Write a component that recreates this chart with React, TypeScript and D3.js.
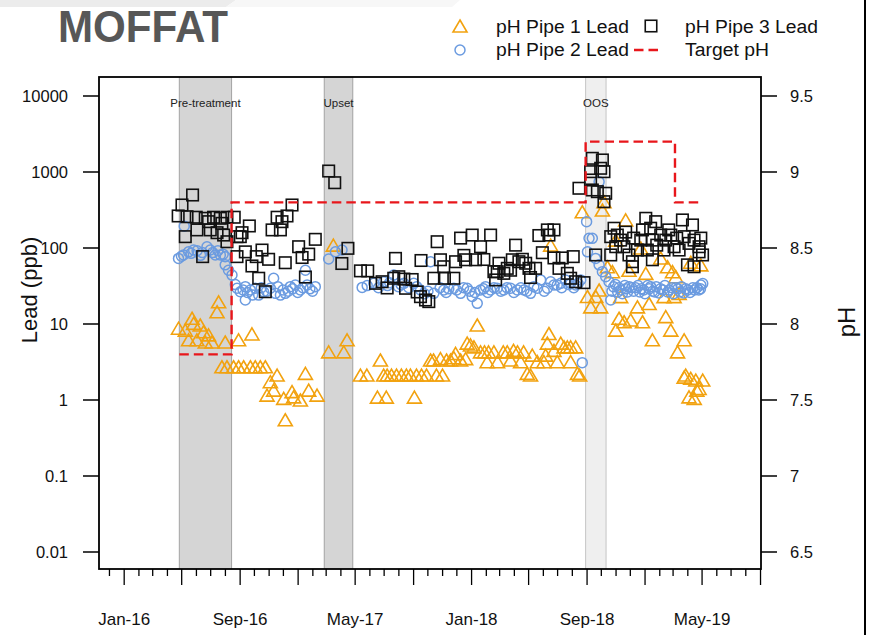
import React from "react";
import * as d3 from "d3";

// ---- DATA (decimal year, lead ppb) ----
const pipe1Lead: [number, number][] = [
  [2016.313, 8.8], [2016.352, 8.3], [2016.371, 6.2], [2016.391, 11.9], [2016.4, 10.2], [2016.419, 6.2],
  [2016.438, 9.7], [2016.457, 7.9], [2016.467, 5.8], [2016.486, 7.2], [2016.506, 5.8], [2016.535, 14.5],
  [2016.544, 19.6], [2016.563, 2.74], [2016.582, 5.8], [2016.592, 2.74], [2016.63, 2.74], [2016.659, 6.2],
  [2016.659, 2.74], [2016.688, 2.74], [2016.727, 2.74], [2016.736, 7.4], [2016.755, 2.74], [2016.784, 2.74],
  [2016.813, 2.74], [2016.823, 1.16], [2016.842, 1.74], [2016.861, 1.35], [2016.881, 2.13], [2016.919, 1.05],
  [2016.928, 0.55], [2016.967, 1.29], [2016.976, 1.1], [2017.015, 1.0], [2017.044, 2.24], [2017.063, 1.35],
  [2017.111, 1.16], [2017.178, 4.3], [2017.205, 109], [2017.265, 4.3], [2017.284, 6.2], [2017.361, 2.13],
  [2017.398, 2.13], [2017.459, 1.09], [2017.476, 3.36], [2017.495, 2.13], [2017.51, 1.09], [2017.515, 2.13],
  [2017.54, 2.13], [2017.569, 2.13], [2017.597, 2.13], [2017.626, 2.13], [2017.649, 2.13], [2017.672, 1.09],
  [2017.684, 2.13], [2017.713, 2.13], [2017.742, 2.13], [2017.765, 3.36], [2017.782, 3.36], [2017.799, 2.13],
  [2017.822, 3.5], [2017.834, 2.13], [2017.857, 3.36], [2017.88, 3.36], [2017.899, 3.6], [2017.909, 4.1],
  [2017.938, 3.36], [2017.967, 3.5], [2017.976, 5.6], [2017.995, 5.3], [2018.015, 5.0], [2018.034, 9.7],
  [2018.053, 4.3], [2018.076, 4.3], [2018.091, 3.19], [2018.099, 4.3], [2018.13, 4.3], [2018.151, 3.19],
  [2018.184, 4.3], [2018.207, 4.3], [2018.226, 3.36], [2018.243, 4.5], [2018.266, 4.3], [2018.284, 3.19],
  [2018.301, 4.3], [2018.322, 2.24], [2018.341, 2.13], [2018.351, 3.9], [2018.38, 3.19], [2018.418, 3.19],
  [2018.428, 3.9], [2018.438, 5.6], [2018.447, 7.5], [2018.457, 109], [2018.476, 4.5], [2018.495, 3.19],
  [2018.515, 5.6], [2018.534, 5.0], [2018.553, 5.0], [2018.572, 5.0], [2018.572, 3.19], [2018.601, 5.0],
  [2018.611, 2.24], [2018.624, 2.13], [2018.639, 300], [2018.669, 23], [2018.688, 16.8], [2018.717, 23],
  [2018.736, 28], [2018.745, 16.8], [2018.755, 316], [2018.764, 407], [2018.784, 56.7], [2018.813, 48.8],
  [2018.832, 8.3], [2018.832, 127], [2018.851, 11.9], [2018.86, 22.9], [2018.88, 10.7], [2018.889, 234],
  [2018.908, 51], [2018.918, 11.3], [2018.957, 16.8], [2018.976, 100], [2018.986, 10.7], [2019.005, 46.4],
  [2019.024, 18.6], [2019.043, 6.2], [2019.091, 74], [2019.11, 22.9], [2019.12, 12.5], [2019.13, 56.7],
  [2019.149, 8.3], [2019.159, 48.8], [2019.168, 22.9], [2019.178, 41.9], [2019.188, 4.3], [2019.197, 25.3],
  [2019.226, 6.2], [2019.226, 2.0], [2019.235, 2.13], [2019.254, 1.1], [2019.264, 1.93], [2019.264, 65],
  [2019.284, 1.05], [2019.293, 1.83], [2019.299, 1.35], [2019.312, 1.42], [2019.322, 60], [2019.333, 1.83],
];

const pipe2Lead: [number, number][] = [
  [2016.313, 73], [2016.33, 78], [2016.342, 81], [2016.346, 194], [2016.371, 89], [2016.385, 85],
  [2016.4, 94], [2016.42, 92], [2016.44, 80], [2016.45, 87], [2016.477, 104], [2016.496, 94],
  [2016.51, 87], [2016.525, 81], [2016.54, 92], [2016.554, 81], [2016.57, 83], [2016.582, 77],
  [2016.582, 60], [2016.601, 51], [2016.621, 44], [2016.64, 33], [2016.65, 29.5], [2016.669, 26.6],
  [2016.685, 28], [2016.698, 31], [2016.698, 20.7], [2016.71, 26], [2016.727, 28], [2016.74, 24],
  [2016.755, 29.5], [2016.775, 24], [2016.79, 30], [2016.803, 26.6], [2016.82, 27], [2016.842, 29.5],
  [2016.861, 40], [2016.871, 25.3], [2016.885, 31], [2016.9, 24], [2016.915, 28], [2016.928, 25.3],
  [2016.945, 27], [2016.957, 31], [2016.97, 29], [2016.986, 32.6], [2017.0, 26], [2017.015, 28],
  [2017.03, 30], [2017.044, 51], [2017.054, 32.6], [2017.07, 29], [2017.085, 27], [2017.101, 31],
  [2017.178, 71.6], [2017.217, 89], [2017.255, 94], [2017.371, 30.3], [2017.4, 32], [2017.438, 34.3],
  [2017.465, 30], [2017.495, 36], [2017.517, 32], [2017.53, 35], [2017.553, 44], [2017.58, 31],
  [2017.595, 33], [2017.611, 34.3], [2017.64, 30], [2017.668, 34.3], [2017.685, 31], [2017.707, 28],
  [2017.73, 25], [2017.75, 27], [2017.765, 66], [2017.784, 25.3], [2017.82, 30], [2017.841, 28],
  [2017.855, 26], [2017.87, 29], [2017.899, 29.5], [2017.915, 28], [2017.938, 25.3], [2017.955, 30],
  [2017.976, 29.5], [2017.99, 27], [2018.005, 23], [2018.02, 26], [2018.034, 18.7], [2018.053, 28],
  [2018.07, 29], [2018.082, 31], [2018.095, 26], [2018.111, 28], [2018.13, 30], [2018.149, 29.5],
  [2018.17, 27], [2018.187, 28], [2018.205, 30], [2018.226, 29.5], [2018.245, 26], [2018.265, 28],
  [2018.285, 30], [2018.303, 28], [2018.32, 27], [2018.341, 25.3], [2018.36, 31], [2018.38, 29.5],
  [2018.399, 38], [2018.42, 27], [2018.438, 29.5], [2018.457, 36], [2018.476, 32.6], [2018.495, 32.6],
  [2018.515, 34.3], [2018.52, 30], [2018.543, 38], [2018.56, 33], [2018.572, 34.3], [2018.59, 30],
  [2018.601, 32.6], [2018.615, 34], [2018.63, 38], [2018.639, 3.1], [2018.664, 222], [2018.669, 89],
  [2018.678, 134], [2018.697, 134], [2018.716, 73], [2018.736, 745], [2018.736, 60], [2018.755, 48.8],
  [2018.774, 42], [2018.793, 36], [2018.803, 20.7], [2018.81, 27], [2018.82, 30.8], [2018.83, 33],
  [2018.843, 26.4], [2018.85, 30], [2018.86, 28], [2018.87, 25], [2018.884, 32], [2018.89, 29],
  [2018.9, 26.4], [2018.91, 31], [2018.924, 30], [2018.935, 27], [2018.947, 30], [2018.96, 32],
  [2018.97, 26.4], [2018.98, 29], [2018.993, 28], [2019.0, 25], [2019.016, 32], [2019.025, 29],
  [2019.033, 31], [2019.045, 27], [2019.057, 26.4], [2019.065, 31], [2019.08, 25.6], [2019.09, 29],
  [2019.103, 28], [2019.115, 32], [2019.131, 26.4], [2019.14, 28], [2019.155, 30], [2019.165, 25],
  [2019.178, 30], [2019.19, 29], [2019.201, 26.4], [2019.21, 31], [2019.224, 25.6], [2019.235, 29],
  [2019.247, 28], [2019.26, 26], [2019.276, 30], [2019.285, 28], [2019.299, 30], [2019.31, 28],
  [2019.32, 29], [2019.322, 32.6], [2019.333, 34],
];

const pipe3Lead: [number, number][] = [
  [2016.311, 264], [2016.333, 368], [2016.352, 141], [2016.362, 258], [2016.394, 498], [2016.415, 254],
  [2016.419, 173], [2016.452, 77], [2016.467, 246], [2016.486, 222], [2016.496, 173], [2016.515, 254],
  [2016.535, 159], [2016.554, 246], [2016.563, 211], [2016.573, 148], [2016.592, 254], [2016.592, 121],
  [2016.634, 254], [2016.65, 141], [2016.65, 77], [2016.669, 141], [2016.679, 159], [2016.698, 89],
  [2016.721, 195], [2016.736, 58], [2016.761, 77], [2016.775, 40], [2016.794, 94], [2016.813, 26.6],
  [2016.832, 71], [2016.852, 173], [2016.881, 254], [2016.9, 173], [2016.909, 222], [2016.928, 64],
  [2016.938, 264], [2016.967, 368], [2017.005, 104], [2017.025, 75], [2017.044, 41.5], [2017.063, 83],
  [2017.101, 130], [2017.178, 1030], [2017.213, 723], [2017.254, 62.5], [2017.289, 99], [2017.361, 50],
  [2017.403, 50], [2017.448, 34.3], [2017.486, 36], [2017.515, 29.8], [2017.553, 40], [2017.563, 73],
  [2017.582, 41.9], [2017.611, 39], [2017.621, 29.5], [2017.659, 38.5], [2017.688, 26.4], [2017.707, 22.9],
  [2017.71, 68.5], [2017.736, 20.7], [2017.755, 19.7], [2017.784, 40], [2017.803, 121], [2017.822, 70],
  [2017.841, 56.7], [2017.845, 40], [2017.899, 40], [2017.909, 66], [2017.938, 135], [2017.957, 80],
  [2017.967, 70], [2018.005, 148], [2018.024, 70], [2018.053, 104], [2018.072, 70.6], [2018.111, 148],
  [2018.13, 48.8], [2018.14, 38], [2018.149, 48.8], [2018.159, 63], [2018.187, 46.4], [2018.207, 54],
  [2018.226, 51], [2018.236, 70], [2018.255, 109], [2018.274, 66], [2018.294, 71], [2018.313, 63],
  [2018.332, 54], [2018.341, 40.9], [2018.37, 54], [2018.389, 146], [2018.409, 86.7], [2018.438, 173],
  [2018.447, 148], [2018.476, 173], [2018.476, 74], [2018.505, 54], [2018.524, 74], [2018.553, 46.4],
  [2018.572, 40], [2018.587, 77], [2018.601, 36], [2018.62, 611], [2018.649, 35], [2018.687, 1010],
  [2018.687, 785], [2018.697, 1514], [2018.697, 580], [2018.716, 81], [2018.726, 551], [2018.745, 1119],
  [2018.755, 1440], [2018.764, 1010], [2018.764, 407], [2018.774, 525], [2018.803, 81], [2018.803, 141],
  [2018.822, 182], [2018.832, 104], [2018.841, 148], [2018.86, 127], [2018.879, 104], [2018.889, 162],
  [2018.908, 81], [2018.928, 66], [2018.928, 56.7], [2018.935, 135], [2018.957, 94], [2018.976, 127],
  [2018.986, 173], [2019.005, 246], [2019.014, 94], [2019.033, 182], [2019.043, 127], [2019.043, 70],
  [2019.062, 222], [2019.068, 109], [2019.091, 148], [2019.11, 94], [2019.12, 127], [2019.137, 173],
  [2019.149, 148], [2019.168, 104], [2019.183, 135], [2019.197, 94], [2019.216, 234], [2019.226, 141],
  [2019.245, 60], [2019.254, 115], [2019.274, 201], [2019.283, 127], [2019.283, 56.7], [2019.312, 104],
  [2019.312, 89], [2019.322, 135], [2019.332, 81],
];

const targetPH: [string, number][] = [
  ["2016-04-26", 7.8], ["2016-08-14", 7.8], ["2016-08-14", 8.8], ["2018-08-29", 8.8],
  ["2018-08-29", 9.2], ["2019-03-05", 9.2], ["2019-03-05", 8.8], ["2019-04-24", 8.8],
];

const bandLabels = ["Pre-treatment", "Upset", "OOS"];
const bandStarts = ["2016-04-26", "2017-02-25", "2018-08-29"];
const bandEnds = ["2016-08-14", "2017-04-26", "2018-10-11"];

const leadTicks = [0.01, 0.1, 1, 10, 100, 1000, 10000];
const leadTickLabels = ["0.01", "0.1", "1", "10", "100", "1000", "10000"];
const phTicks = [6.5, 7, 7.5, 8, 8.5, 9, 9.5];
const phTickLabels = ["6.5", "7", "7.5", "8", "8.5", "9", "9.5"];
const xLabelDates = ["2016-01-01", "2016-09-01", "2017-05-01", "2018-01-01", "2018-09-01", "2019-05-01"];
const xLabels = ["Jan-16", "Sep-16", "May-17", "Jan-18", "Sep-18", "May-19"];

const legendLabels = ["pH Pipe 1 Lead", "pH Pipe 2 Lead", "pH Pipe 3 Lead", "Target pH"];

// ---- helpers ----
const utc = (s: string) => new Date(s + "T00:00:00Z");
const decYear = (y: number) => new Date(Date.UTC(2016, 0, 1) + (y - 2016) * 365.25 * 86400000);

const FONT = "'Liberation Sans', Arial, Helvetica, sans-serif";
const ORANGE = "#f2a20f";
const BLUE = "#6b9be0";
const RED = "#e8161b";

const L = 99, R = 761, T = 77, B = 569;

export default function App() {
  const x = d3.scaleUtc().domain([utc("2015-11-09"), utc("2019-09-02")]).range([L, R]);
  const yLead = d3.scaleLog().domain([0.01, 10000]).range([552, 96]);
  const yPH = d3.scaleLinear().domain([6.5, 9.5]).range([552, 96]);

  const months = d3.utcMonth.range(utc("2015-12-01"), utc("2019-09-03"));
  const isMajor = (d: Date) => ((d.getUTCFullYear() - 2016) * 12 + d.getUTCMonth()) % 4 === 0;

  const targetLine = d3
    .line<[string, number]>()
    .x((d) => x(utc(d[0])))
    .y((d) => yPH(d[1]))(targetPH);

  const tri = "M0,-6 L7,6 L-7,6 Z";
  const sq = 11.5;

  return (
    <svg width={872} height={635} style={{ position: "absolute", left: 0, top: 0, background: "#fff" }} fontFamily={FONT}>
      <rect x={0} y={0} width={872} height={635} fill="#fff" />
      <polygon points="0,0 236,0 226,7 0,7" fill="#ececec" />
      <polygon points="236,0 460,0 452,7 226,7" fill="#f7f7f7" />

      {/* Title */}
      <text x={58} y={42} fontSize={44} fontWeight="bold" fill="#575757" textLength={170} lengthAdjust="spacingAndGlyphs">
        MOFFAT
      </text>

      {/* Bands */}
      {bandLabels.map((lab, i) => {
        const x0 = x(utc(bandStarts[i]));
        const x1 = x(utc(bandEnds[i]));
        const light = i === 2;
        return (
          <g key={lab}>
            <rect x={x0} y={T} width={x1 - x0} height={B - T} fill={light ? "#efefef" : "#d5d5d5"} />
            <line x1={x0} x2={x0} y1={T} y2={B} stroke={light ? "#c4c4c4" : "#a3a3a3"} strokeWidth={1} />
            <line x1={x1} x2={x1} y1={T} y2={B} stroke={light ? "#c4c4c4" : "#a3a3a3"} strokeWidth={1} />
            <text x={(x0 + x1) / 2} y={103} fontSize={11.5} textAnchor="middle" dominantBaseline="central" fill="#222">
              {lab}
            </text>
          </g>
        );
      })}

      {/* Points */}
      {pipe1Lead.map((d, i) => (
        <path key={"t" + i} d={tri} transform={`translate(${x(decYear(d[0]))},${yLead(d[1])})`} fill="none" stroke={ORANGE} strokeWidth={1.6} />
      ))}
      {pipe2Lead.map((d, i) => (
        <circle key={"c" + i} cx={x(decYear(d[0]))} cy={yLead(d[1])} r={5} fill="none" stroke={BLUE} strokeWidth={1.5} />
      ))}
      {pipe3Lead.map((d, i) => (
        <rect key={"s" + i} x={x(decYear(d[0])) - sq / 2} y={yLead(d[1]) - sq / 2} width={sq} height={sq} fill="none" stroke="#111" strokeWidth={1.6} />
      ))}

      {/* Target pH */}
      <path d={targetLine || ""} fill="none" stroke={RED} strokeWidth={2.4} strokeDasharray="9.5,5" />

      {/* Box */}
      <rect x={L} y={T} width={R - L} height={B - T} fill="none" stroke="#000" strokeWidth={1.8} />

      {/* Left axis */}
      {leadTicks.map((t, i) => (
        <g key={"lt" + i}>
          <line x1={83} x2={L} y1={yLead(t)} y2={yLead(t)} stroke="#000" strokeWidth={1.5} />
          <text x={68} y={yLead(t)} fontSize={16.5} textAnchor="end" dominantBaseline="central" fill="#111">
            {leadTickLabels[i]}
          </text>
        </g>
      ))}
      {/* Right axis */}
      {phTicks.map((t, i) => (
        <g key={"rt" + i}>
          <line x1={R} x2={777} y1={yPH(t)} y2={yPH(t)} stroke="#000" strokeWidth={1.5} />
          <text x={790} y={yPH(t)} fontSize={16.5} textAnchor="start" dominantBaseline="central" fill="#111">
            {phTickLabels[i]}
          </text>
        </g>
      ))}
      {/* Bottom axis */}
      {months.map((m, i) => (
        <line key={"m" + i} x1={x(m)} x2={x(m)} y1={B} y2={isMajor(m) ? 585 : 576} stroke="#000" strokeWidth={1.3} />
      ))}
      {xLabels.map((lab, i) => (
        <text key={lab} x={x(utc(xLabelDates[i]))} y={619} fontSize={17} textAnchor="middle" dominantBaseline="central" fill="#111">
          {lab}
        </text>
      ))}

      {/* Axis titles */}
      <text transform="translate(37,290) rotate(-90)" fontSize={22} textAnchor="middle" fill="#111">
        Lead (ppb)
      </text>
      <text transform="translate(855,322) rotate(-90)" fontSize={24} textAnchor="middle" fill="#111">
        pH
      </text>

      {/* Legend */}
      <path d={tri} transform="translate(460,26)" fill="none" stroke={ORANGE} strokeWidth={1.6} />
      <circle cx={460} cy={50} r={5} fill="none" stroke={BLUE} strokeWidth={1.5} />
      <rect x={651 - sq / 2} y={26 - sq / 2} width={sq} height={sq} fill="none" stroke="#111" strokeWidth={1.6} />
      <line x1={634} x2={658} y1={50} y2={50} stroke={RED} strokeWidth={2.4} strokeDasharray="9.5,5" />
      <text x={496} y={27} fontSize={18} dominantBaseline="central" textLength={133} lengthAdjust="spacingAndGlyphs" fill="#111">
        {legendLabels[0]}
      </text>
      <text x={496} y={50} fontSize={18} dominantBaseline="central" textLength={133} lengthAdjust="spacingAndGlyphs" fill="#111">
        {legendLabels[1]}
      </text>
      <text x={685} y={27} fontSize={18} dominantBaseline="central" textLength={133} lengthAdjust="spacingAndGlyphs" fill="#111">
        {legendLabels[2]}
      </text>
      <text x={685} y={50} fontSize={18} dominantBaseline="central" textLength={84} lengthAdjust="spacingAndGlyphs" fill="#111">
        {legendLabels[3]}
      </text>

      {/* Right frame line */}
      <line x1={865} x2={865} y1={0} y2={635} stroke="#000" strokeWidth={2} />
    </svg>
  );
}
